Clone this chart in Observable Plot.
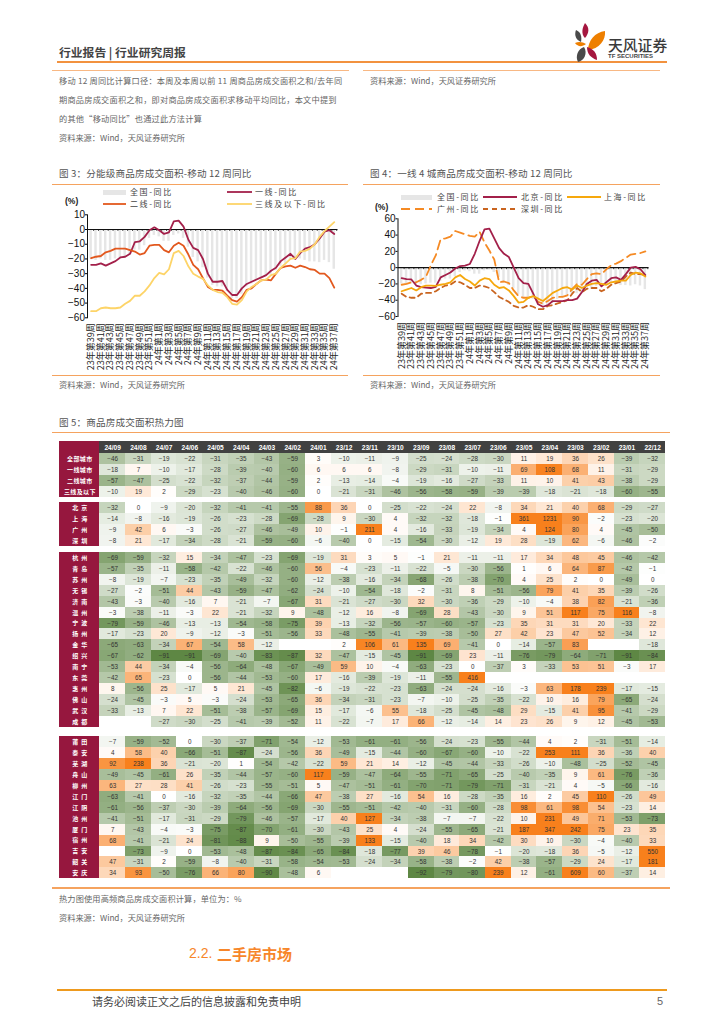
<!DOCTYPE html>
<html lang="zh">
<head>
<meta charset="utf-8">
<script src="https://cdn.jsdelivr.net/npm/d3@7"></script>
<script src="https://cdn.jsdelivr.net/npm/@observablehq/plot@0.6"></script>
<style>
html,body{margin:0;padding:0;background:#fff}
#page{position:relative;width:724px;height:1024px;overflow:hidden;font-family:"Noto Sans CJK SC","Noto Sans",sans-serif}
.t{position:absolute;white-space:pre;line-height:1;transform:translateY(-50%);color:#666}
.r{position:absolute}
#page svg{position:absolute}
</style>
</head>
<body>
<div id="page"></div>
<script>
// ---------- week categories
const weeks23 = [39,40,41,42,43,44,45,46,47,48,49,50,51,52];
const weeks24 = [1,2,3,4,5,6,7,8,9,10,11,12,13,14,15,16,17,18,19,20,21,22,23,24,25,26,27,28,29,30,31,32,33,34,35,36,37];
const weekLabels = [...weeks23.map(w => `23年第${w}周`), ...weeks24.map(w => `24年第${w}周`)];

// ---------- figure 3 series (%)
const nationYoY = [-20,-21,-20,-21,-21,-20,-19,-19,-17,-14,-14,-11,-6,-4,-5,-8,-8,-4,-3,-6,-12,-19,-22,-26,-33,-38,-39,-39,-42,-47,-47,-44,-39,-37,-35,-33,-32,-31,-28,-25,-23,-21,-21,-20,-21,-22,-22,-22.5,-21,-22.5,-27];
const tier1YoY = [-24,-24,-23,-24.5,-23,-21.5,-19,-18.5,-16.5,-8.5,-8,-5,-0.5,1.5,-0.5,-3,-2,5.5,6,2,-7,-12.5,-14,-20,-30,-35.5,-35.5,-35,-41,-44.5,-44.5,-40,-37,-35.5,-34,-32.5,-31,-28,-26,-21.5,-19,-16.5,-20,-16,-13,-12,-10,-6,-1.5,-0.5,-3];
const tier2YoY = [-19.5,-18.5,-18,-15.5,-14.5,-13,-13,-13,-14,-15,-17,-16,-11,-10.5,-10.5,-14,-15.5,-11,-9,-11,-17,-24,-27,-33,-39,-41,-41,-41.5,-45,-48,-49,-46,-41,-40,-37,-34.5,-34,-34.5,-30,-26,-25,-24.5,-26,-24.5,-25.5,-27,-27.5,-30,-30,-33,-39.5];
const tier3YoY = [-55.5,-55.5,-53.5,-53,-53.5,-53.5,-53,-50.5,-48.5,-45,-45,-42,-38,-33,-29.5,-30.5,-27,-16,-14.5,-18,-25,-30,-32,-33.5,-38,-41,-42.5,-43,-46,-50.5,-51,-48,-42,-39,-37,-34.5,-34,-31,-30,-26,-23,-20,-19.5,-15,-14.5,-13,-10,-5,-1,2,5];

// ---------- figure 4 series (%)
const beijingYoY = [-13,-14,-14.5,-22,-24,-24.5,-25,-23.5,-12,-9,-6,-1,2,2.5,4.5,17,33,47,48,36,24,17,13,0,-13,-19,-20,-32,-45,-48,-46,-41,-41,-41,-40,-40,-38,-30,-20,-16,-15,-23,-18,-13,-12,-15,-8,0,1,-2,-9];
const shanghaiYoY = [-29,-27,-25,-28,-24,-22,-22,-22.5,-21,-20,-18,-12,-9,-14,-17,-22,-16,-13,-14,-21,-25,-24,-28,-35,-43,-42,-37,-35,-38,-41,-36,-31,-28,-25,-24,-27,-22,-25,-22,-20,-19,-20,-21,-18,-17,-16,-16,-9,-6,-7,-11];
const guangzhouYoY = [-21,-20,-18,-18,-15,-11,3,15,35,36,38,45,43,41,39,38,44,31,21,10,-18,-17,-19,-28,-35,-37,-37,-35,-42,-44,-41,-37,-36,-36,-34,-26,-20,-21,-14,-8,-7,-8,-2,3,5,8,12,16,17,18,20];
const shenzhenYoY = [-32,-36,-37,-37,-32,-31,-31,-29,-25,-22,-21,-17,-18,-21,-25,-25,-22,-23,-25,-30,-36,-39,-42,-47,-49,-49,-46,-48,-51,-51,-47,-46,-44,-42,-40,-32,-25,-30,-26,-25,-25,-29,-26,-21,-19,-17,-11,-6,-8,-8,-9];

// ---------- figure 5 heat map
const months = ["24/09","24/08","24/07","24/06","24/05","24/04","24/03","24/02","24/01","23/12","23/11","23/10","23/09","23/08","23/07","23/06","23/05","23/04","23/03","23/02","23/01","22/12"];
const _ = null;
const tierNames = ["全部城市","一线城市","二线城市","三线及以下"];
const tierValues = [
 [-46,-31,-19,-22,-31,-35,-43,-59,3,-10,-11,-9,-25,-24,-28,-30,11,19,36,26,-39,-32],
 [-18,7,-10,-17,-28,-39,-40,-60,6,6,6,-8,-29,-31,-10,-11,69,108,68,11,-31,-29],
 [-57,-47,-25,-22,-32,-37,-44,-59,2,-13,-14,-4,-19,-16,-27,-33,11,10,41,43,-38,-29],
 [-10,19,2,-29,-23,-40,-46,-60,0,-21,-31,-46,-56,-58,-59,-39,-39,-18,-21,-18,-60,-55]
];
const tier1Names = ["北京","上海","广州","深圳"];
const tier1Values = [
 [-32,0,-9,-20,-32,-41,-41,-55,88,36,0,-25,-22,-24,22,-8,34,21,40,68,-29,-27],
 [-14,-8,-16,-19,-26,-23,-28,-69,-28,9,-30,4,-32,-32,-18,-1,361,1231,90,-2,-23,-20],
 [-9,42,6,-3,-26,-27,-46,-49,10,-1,211,4,-16,-33,-19,-34,4,124,80,4,-45,-50],
 [-8,21,-17,-34,-28,-21,-59,-60,-6,-40,0,-15,-54,-30,-12,19,28,-19,62,-6,-46,-2]
];
const tier2Names = ["杭州","青岛","苏州","无锡","济南","温州","宁波","扬州","金华","绍兴","南宁","东莞","惠州","佛山","武汉","成都"];
const tier2Values = [
 [-69,-59,-32,15,-34,-47,-23,-69,-19,31,3,5,-1,21,-11,-11,17,34,48,45,-46,-42],
 [-57,-35,-11,-58,-42,-22,-46,-60,56,-4,-23,-11,-22,-5,-30,-56,1,6,64,87,-42,-1],
 [-8,-19,-7,-23,-35,-49,-32,-60,-12,-38,-16,-34,-68,-26,-38,-70,4,25,2,0,-49,0],
 [-27,-2,-51,44,-43,-59,-47,-62,-24,-10,-54,-18,-2,-31,8,-51,-56,79,41,35,-39,-26],
 [-43,-3,-40,-16,7,-21,-7,-67,31,-21,-27,-30,32,-30,-36,-29,-10,-4,38,82,-21,-36],
 [-3,-38,-11,-3,22,-21,-32,9,-48,-12,16,-8,-69,28,-43,-30,9,51,117,75,116,-8],
 [-79,-59,-46,-13,-13,-54,-58,-75,39,-13,-32,-56,-57,-60,-57,-23,35,31,31,20,-33,22],
 [-17,-23,20,-9,-12,-3,-51,-56,33,-48,-55,-41,-39,-38,-50,27,42,23,47,52,-34,12],
 [-65,-63,-34,67,-54,58,-12,_,_,2,106,61,135,69,-41,0,-14,-57,83,_,_,-18],
 [-67,-62,-91,-91,-69,-40,-83,-87,32,-47,-15,-45,-91,-69,23,-11,-76,-79,-64,-71,-91,-84],
 [-53,44,-34,-4,-56,-64,-48,-67,-49,59,10,-4,-63,-23,0,-37,3,-33,53,51,-3,17],
 [-42,65,-23,0,-56,-44,-53,-60,17,-16,-39,-19,-11,-55,416,_,_,_,_,_,_,_],
 [8,-56,25,-17,5,21,-45,-82,-6,-19,-22,-23,-63,-24,-24,-16,-3,63,178,239,-17,-15],
 [-24,-45,-3,5,-3,-24,-53,-65,36,-34,-31,-23,-7,-10,-25,-35,-22,10,16,79,-65,-24],
 [-33,-13,7,22,-51,-38,-57,-69,15,-17,-6,55,-18,-25,-45,-48,29,-15,41,95,-41,-29],
 [_,_,-27,-30,-25,-41,-39,-52,11,-22,-7,17,66,-12,-14,14,23,26,9,12,-45,-53]
];
const tier3Names = ["莆田","泰安","芜湖","舟山","柳州","江门","江阴","池州","厦门","宿州","吉安","韶关","安庆"];
const tier3Values = [
 [-7,-59,-52,0,-30,-37,-71,-54,-12,-53,-61,-61,-56,-24,-23,-55,-44,4,2,-31,-51,-14],
 [4,58,40,-66,-51,-87,-24,-56,36,-49,-15,-44,-60,-67,-60,-10,-22,253,111,36,-36,40],
 [92,238,36,-21,-20,1,-54,-42,-22,59,21,14,-12,-45,-44,-33,-26,-10,-48,-25,-52,-45],
 [-49,-45,-61,26,-35,-44,-57,-60,117,-59,-47,-64,-55,-71,-65,-25,-40,-35,9,61,-76,-36],
 [63,27,28,41,-26,-23,-55,-51,5,-47,-51,-61,-70,-71,-79,-71,-31,-21,4,-5,-66,-16],
 [-63,-41,0,-16,-32,-35,-44,-66,47,-38,27,-16,54,16,-28,-35,16,2,45,110,-26,49],
 [-61,-56,-37,-30,-39,-64,-56,-69,-30,-55,-51,-42,-40,-31,-60,-28,98,61,98,54,-23,14],
 [-41,-51,-17,-31,-29,-79,-46,-57,-17,40,127,-34,-38,-7,-7,-22,10,231,49,71,-53,-73],
 [7,-43,-4,-3,-75,-87,-70,-61,-30,-43,25,4,-24,-55,-65,-21,187,347,242,75,23,35],
 [68,-41,-21,24,-81,-88,9,-50,-55,-39,133,-15,-40,18,34,-42,30,10,-30,-4,-40,33],
 [_,-73,-9,0,-53,-48,-87,-84,-65,-84,-18,-77,39,46,-78,-1,-20,-18,36,-5,-12,550],
 [47,-31,2,-59,-8,-40,-31,-58,-54,-53,-24,-34,-58,-38,-2,42,-38,-57,-29,24,-17,181],
 [34,93,-50,-76,66,80,-90,-48,6,_,_,_,-92,-79,-80,239,12,-61,609,60,-37,14]
];

// ---------- page text
const source = "资料来源：Wind，天风证券研究所";
const note3 = ["移动 12 周同比计算口径：本周及本周以前 11 周商品房成交面积之和/去年同","期商品房成交面积之和，即对商品房成交面积求移动平均同比，本文中提到","的其他“移动同比”也通过此方法计算"];

// ---------- helpers
const page = document.getElementById("page");
const cjk = '"Noto Sans CJK SC"';
const latin = '"Liberation Sans"';
function T(text, x, y, css = {}) {
  const e = document.createElement("div");
  e.className = "t"; e.textContent = text;
  Object.assign(e.style, {left: x + "px", top: y + "px", fontSize: "8.2px"}, css);
  page.append(e); return e;
}
function R(x, y, w, h, color) {
  const e = document.createElement("div");
  e.className = "r";
  Object.assign(e.style, {left: x + "px", top: y + "px", width: w + "px", height: h + "px", background: color});
  page.append(e);
}
function place(svg, x, y) { svg.style.left = x + "px"; svg.style.top = y + "px"; page.append(svg); }
function legendLine(x1, x2, y, color, width, dash) {
  const s = d3.create("svg").attr("width", x2 - x1).attr("height", 8).style("left", x1 + "px").style("top", (y - 4) + "px");
  s.append("line").attr("x1", 0).attr("x2", x2 - x1).attr("y1", 4).attr("y2", 4).attr("stroke", color).attr("stroke-width", width).attr("stroke-dasharray", dash || null);
  page.append(s.node());
}

// ---------- header
R(57, 60.8, 610, 2, "#f2923f");
T("行业报告 | 行业研究周报", 59, 52, {fontSize: "11.8px", fontWeight: 700, color: "#444"});
R(52, 69.5, 297, 1.5, "#f8b884");
R(363, 69.5, 297, 1.5, "#f8b884");
const logo = d3.create("svg").attr("width", 50).attr("height", 50).style("left", "564px").style("top", "18px");
[["M21 5C26 10 25 15 21 20C17 16 18 10 21 5Z","#a5173f"],
 ["M12 12C17 14 18 19 17 24C12 22 10 17 12 12Z","#4a4a4a"],
 ["M41 13C42 22 35 31 24 32C24 23 31 14 41 13Z","#ee7f00"],
 ["M11 25C15 23 19 24 22 26C18 29 14 29 11 25Z","#ee7f00"],
 ["M23 29C29 31 33 34 33 42C27 40 23 36 23 29Z","#a5173f"],
 ["M20 29C24 35 20 43 14 44C11 38 14 31 20 29Z","#4a4a4a"]
].forEach(([d, f]) => logo.append("path").attr("d", d).attr("fill", f));
page.append(logo.node());
T("天风证券", 608, 45, {fontSize: "14.8px", fontWeight: 500, color: "#3a3a3a"});
T("TF SECURITIES", 608, 56, {fontSize: "6px", fontWeight: 700, color: "#444", fontFamily: latin});

// ---------- note text
const noteY = [80, 99, 118];
note3.forEach((s, i) => T(s, 59, noteY[i], {letterSpacing: ".23px"}));
T(source, 59, 137);
T(source, 370, 80);

// ---------- line charts
const axisFont = {fontFamily: cjk, fontSize: 9, fill: "#222", tickSize: 0, tickRotate: -90, label: null};
const oddTicks = weekLabels.filter((_, i) => i % 2 === 0);

function lineChart({left, top, width, height, mL, mR, mT, mB, domain, ticks, tick, series}) {
  const rows = weekLabels.map((w, i) => ({w, v: nationYoY[i]}));
  const marks = [
    Plot.barY(rows, {x: "w", y: "v", fill: "#e6e6e6"}),
    Plot.ruleY([0], {stroke: "#111", strokeWidth: 1.1}),
    Plot.ruleX(weekLabels, {x: d => d, y1: 0, y2: tick, stroke: "#111", strokeWidth: .8, dx: 2.45}),
    Plot.frame({anchor: "left", stroke: "#111"}),
    Plot.axisY({ticks, tickSize: 2, tickPadding: 0.5, fontFamily: latin, fontSize: 10, fill: "#111", label: null}),
    Plot.axisX({ticks: oddTicks, tickPadding: 5.5, ...axisFont})
  ];
  for (const s of series) {
    marks.push(Plot.line(s.values.map((v, i) => ({w: weekLabels[i], v})), {
      x: "w", y: "v", stroke: s.color, strokeWidth: s.w || 1.8, strokeDasharray: s.dash, curve: "linear"
    }));
  }
  const svg = Plot.plot({
    width, height, marginLeft: mL, marginRight: mR, marginTop: mT, marginBottom: mB,
    style: {background: "transparent", overflow: "visible"},
    x: {type: "band", domain: weekLabels, padding: 0.5, round: false},
    y: {domain},
    marks
  });
  place(svg, left, top);
}

const cCrimson = "#a3204a", cRed = "#e2581e", cYellow = "#fdd468";
const cBeijing = "#a3204a", cShanghai = "#f6a80d", cGuangzhou = "#f58a24", cShenzhen = "#c9641f";

lineChart({left: 52, top: 205, width: 300, height: 175, mL: 35, mR: 14.6, mT: 9.3, mB: 62.7,
  domain: [-60, 10], ticks: [-60,-50,-40,-30,-20,-10,0,10], tick: -1.3,
  series: [{values: tier1YoY, color: cCrimson}, {values: tier2YoY, color: cRed}, {values: tier3YoY, color: cYellow}]});

lineChart({left: 363, top: 210, width: 300, height: 170, mL: 34.5, mR: 14.5, mT: 8.3, mB: 64,
  domain: [-60, 60], ticks: [-60,-40,-20,0,20,40,60], tick: -2.5,
  series: [{values: guangzhouYoY, color: cGuangzhou, dash: "9 5"}, {values: shenzhenYoY, color: cShenzhen, dash: "5 4"}, {values: beijingYoY, color: cBeijing}, {values: shanghaiYoY, color: cShanghai}]});

// ---------- figure frames & legends
const titleCss = {fontSize: "9.6px", color: "#555", letterSpacing: ".15px"};
const legendCss = {fontSize: "8px", color: "#444", letterSpacing: "1.6px"};
T("图 3：分能级商品房成交面积-移动 12 周同比", 59, 173.5, titleCss);
T("图 4：一线 4 城商品房成交面积-移动 12 周同比", 370, 173.5, titleCss);
R(52, 183.5, 296, 1.5, "#f5a35f"); R(363, 183.5, 297, 1.5, "#f5a35f");
R(52, 374.5, 296, 1.5, "#f5a35f"); R(363, 374.5, 297, 1.5, "#f5a35f");
T(source, 59, 384); T(source, 370, 384);

R(103, 190, 23, 4.5, "#e6e6e6"); T("全国-同比", 130, 192, legendCss);
legendLine(227, 252, 192, cCrimson, 1.8); T("一线-同比", 255, 192, legendCss);
legendLine(103, 126, 203.5, cRed, 1.8); T("二线-同比", 130, 203.5, legendCss);
legendLine(227, 252, 203.5, cYellow, 1.8); T("三线及以下-同比", 255, 203.5, legendCss);
T("(%)", 65, 201, {fontSize: "8.5px", fontWeight: 700, color: "#222", fontFamily: latin});

R(401, 194.5, 31, 5, "#e6e6e6"); T("全国-同比", 437, 197, legendCss);
legendLine(483, 517, 197, cBeijing, 1.8); T("北京-同比", 521, 197, legendCss);
legendLine(567, 601, 197, cShanghai, 1.8); T("上海-同比", 604, 197, legendCss);
legendLine(401, 432, 208.5, cGuangzhou, 1.8, "9 5"); T("广州-同比", 437, 208.5, legendCss);
legendLine(483, 517, 208.5, cShenzhen, 1.8, "5 4"); T("深圳-同比", 521, 208.5, legendCss);
T("(%)", 375, 207, {fontSize: "8.5px", fontWeight: 700, color: "#222", fontFamily: latin});

// ---------- heat map
T("图 5：商品房成交面积热力图", 59, 423, titleCss);
R(52, 431.5, 618, 1.5, "#f5a35f");
const groups = [
  {names: tierNames, values: tierValues, start: 0},
  {names: tier1Names, values: tier1Values, start: 4.5},
  {names: tier2Names, values: tier2Values, start: 9.05},
  {names: tier3Names, values: tier3Values, start: 25.9}
];
const labelRows = groups.flatMap(g => g.names.map((name, i) => ({name, y: g.start + i})));
const cellRows = groups.flatMap(g => g.values.flatMap((r, i) => r.map((v, j) => ({v, x: j, y: g.start + i})))).filter(d => d.v !== null);
const monthCols = months.map((m, x) => ({m, x}));
const headTop = -1.1, labelLeft = -1.568;
const heat = Plot.plot({
  width: 606, height: 438, margin: 0,
  style: {background: "transparent"},
  x: {axis: null, domain: [labelLeft, 22], range: [0, 606]},
  y: {axis: null, domain: [headTop, 38.9], range: [0, 437.3]},
  color: {type: "linear", domain: [-91, 0, 110], range: ["#5e8744", "#ffffff", "#f8801c"], clamp: true},
  marks: [
    Plot.rect(monthCols, {x1: "x", x2: d => d.x + 1, y1: headTop, y2: 0, fill: "#414141", shapeRendering: "crispEdges"}),
    Plot.text(monthCols, {x: d => d.x + .5, y: headTop / 2, text: "m", fill: "#fff", fontWeight: 700, fontFamily: latin, fontSize: 6.6}),
    Plot.rect(groups.map((g, i) => ({a: i === 0 ? headTop : g.start, b: g.start + g.names.length})), {x1: labelLeft, x2: 0, y1: "a", y2: "b", fill: "#96173e", shapeRendering: "crispEdges"}),
    Plot.text(labelRows, {x: labelLeft / 2, y: d => d.y + .5, text: d => d.name.split("").join(d.name.length === 2 ? "\u2002" : "\u200a"), fill: "#fff", fontWeight: 700, fontFamily: cjk, fontSize: 6}),
    Plot.rect(cellRows, {x1: "x", x2: d => d.x + 1, y1: "y", y2: d => d.y + 1, fill: "v", shapeRendering: "crispEdges"}),
    Plot.text(cellRows, {x: d => d.x + .5, y: d => d.y + .5, text: d => String(d.v).replace("-", "−"), fill: "#333", fontFamily: latin, fontSize: 6.3})
  ]
});
place(heat, 59, 440.7);

R(52, 887, 618, 1.5, "#f5a35f");
T("热力图使用高频商品房成交面积计算，单位为：%", 59, 898, {letterSpacing: ".15px"});
T(source, 59, 917);
T("2.2.", 189, 953, {fontSize: "14px", color: "#f7862a", fontFamily: latin});
T("二手房市场", 217, 953, {fontSize: "15px", fontWeight: 700, color: "#f7862a"});
R(57, 989, 610, 2, "#ee9a1e");
T("请务必阅读正文之后的信息披露和免责申明", 92, 1001, {fontSize: "11px", color: "#444"});
T("5", 657, 1001, {fontSize: "11px", color: "#666", fontFamily: latin});
</script>
</body>
</html>
